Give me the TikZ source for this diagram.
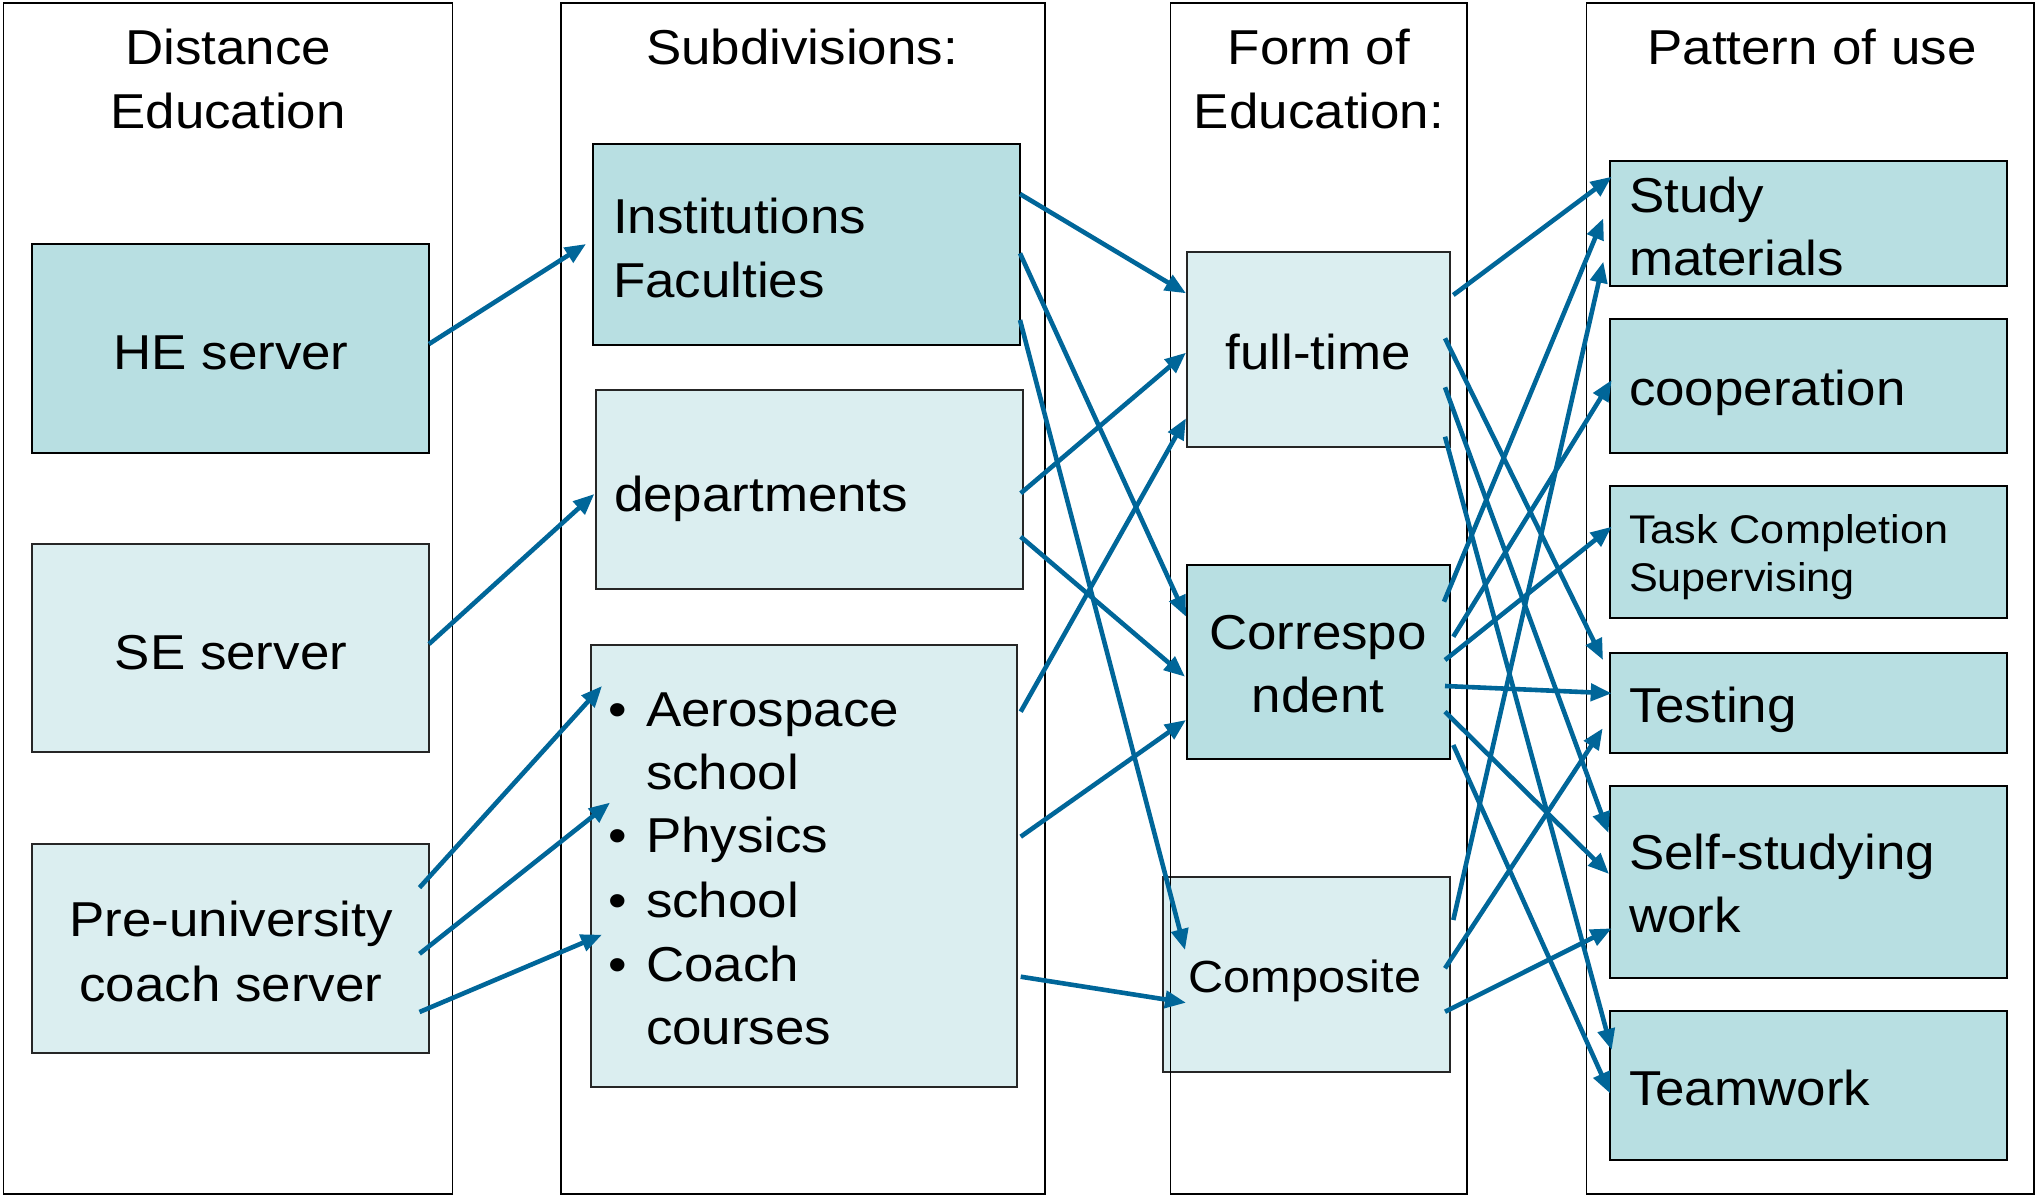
\documentclass[tikz,border=0pt]{standalone}
\usepackage{fontspec}
\setmainfont{Liberation Sans}[FakeStretch=1.08]
\usetikzlibrary{arrows.meta,calc}
\definecolor{darkfill}{RGB}{184,223,226}
\definecolor{lightfill}{RGB}{219,238,240}
\definecolor{arrowblue}{RGB}{0,102,153}
\begin{document}
\begin{tikzpicture}[x=1pt,y=-1pt,
  frame/.style={draw=black,line width=1.5pt,inner sep=0pt,outer sep=0pt},
  dbox/.style={draw=black,line width=2pt,fill=darkfill,inner sep=0pt,outer sep=0pt},
  lbox/.style={draw=black!85,line width=2pt,fill=lightfill,inner sep=0pt,outer sep=0pt},
  txt/.style={inner sep=0pt,outer sep=0pt,font=\fontsize{49}{58}\selectfont},
  ctxt/.style={txt,anchor=base},
  ltxt/.style={txt,anchor=base west},
  arr/.style={draw=arrowblue,line width=4.6pt,-{Triangle[length=21pt,width=17pt]}},
]
\useasboundingbox[fill=white] (0,0) rectangle (2037,1196);

% boxes
\node[dbox,minimum width=397.4pt,minimum height=208.5pt] (he) at (230.3,348.25) {};
\node[lbox,minimum width=397.4pt,minimum height=208.5pt] (se) at (230.3,647.75) {};
\node[lbox,minimum width=397.4pt,minimum height=208.5pt] (pre) at (230.3,948.25) {};
\node[dbox,minimum width=427pt,minimum height=200.5pt] (inst) at (806,244.25) {};
\node[lbox,minimum width=427pt,minimum height=199.5pt] (dept) at (809.5,489.25) {};
\node[lbox,minimum width=426.6pt,minimum height=441.6pt] (aero) at (804,865.8) {};
\node[lbox,minimum width=263pt,minimum height=194.5pt] (full) at (1318.5,349.25) {};
\node[dbox,minimum width=263pt,minimum height=193.5pt] (corr) at (1318.5,661.75) {};
\node[lbox,minimum width=287.3pt,minimum height=194.7pt] (comp) at (1306.35,974.35) {};
\node[dbox,minimum width=397pt,minimum height=125.3pt] (study) at (1808.5,223.35) {};
\node[dbox,minimum width=397pt,minimum height=133.7pt] (coop) at (1808.5,385.85) {};
\node[dbox,minimum width=397pt,minimum height=132pt] (task) at (1808.5,552) {};
\node[dbox,minimum width=397pt,minimum height=100.4pt] (test) at (1808.5,702.8) {};
\node[dbox,minimum width=397pt,minimum height=192.3pt] (self) at (1808.5,882.15) {};
\node[dbox,minimum width=397pt,minimum height=149.9pt] (team) at (1808.5,1085.45) {};

% column frames
\node[frame,minimum width=449pt,minimum height=1191pt] (col1) at (228,598.5) {};
\node[frame,minimum width=484pt,minimum height=1191pt] (col2) at (803,598.5) {};
\node[frame,minimum width=296.4pt,minimum height=1191pt] (col3) at (1318.8,598.5) {};
\node[frame,minimum width=447.4pt,minimum height=1191pt] (col4) at (1810.3,598.5) {};

% headers
\node[ctxt] (h1a) at (228,65) {Distance};
\node[ctxt] (h1b) at (228,129) {Education};
\node[ctxt] (h2) at (802,65) {Subdivisions:};
\node[ctxt] (h3a) at (1319,65) {Form of};
\node[ctxt] (h3b) at (1319,129) {Education:};
\node[ctxt] (h4) at (1812,65) {Pattern of use};

% box texts
\node[ctxt] (the) at (231,369) {HE server};
\node[ctxt] (tse) at (231,669) {SE server};
\node[ctxt] (tpre1) at (231,936) {Pre-university};
\node[ctxt] (tpre2) at (231,1001) {coach server};
\node[ltxt] (tinst1) at (613,233) {Institutions};
\node[ltxt] (tinst2) at (613,297) {Faculties};
\node[ltxt] (tdept) at (614,511) {departments};
\node[ltxt] (b1) at (608,726) {•};
\node[ltxt] (b2) at (608,852) {•};
\node[ltxt] (b3) at (608,917) {•};
\node[ltxt] (b4) at (608,981) {•};
\node[ltxt] (ta1) at (646,726) {Aerospace};
\node[ltxt] (ta2) at (646,789) {school};
\node[ltxt] (ta3) at (646,852) {Physics};
\node[ltxt] (ta4) at (646,917) {school};
\node[ltxt] (ta5) at (646,981) {Coach};
\node[ltxt] (ta6) at (646,1044.5) {courses};
\node[ctxt] (tfull) at (1318,369) {full-time};
\node[ctxt] (tcorr1) at (1318,649.6) {Correspo};
\node[ctxt] (tcorr2) at (1318,712.7) {ndent};
\node[ctxt,font=\fontsize{45}{53}\selectfont] (tcomp) at (1305,992) {Composite};
\node[ltxt] (tstudy1) at (1629,212) {Study};
\node[ltxt] (tstudy2) at (1629,275.5) {materials};
\node[ltxt] (tcoop) at (1629,405.6) {cooperation};
\node[ltxt,font=\fontsize{40}{47}\selectfont] (ttask1) at (1629,543) {Task Completion};
\node[ltxt,font=\fontsize{40}{47}\selectfont] (ttask2) at (1629,591) {Supervising};
\node[ltxt] (ttest) at (1629,722) {Testing};
\node[ltxt] (tself1) at (1629,869.6) {Self-studying};
\node[ltxt] (tself2) at (1629,932.7) {work};
\node[ltxt] (tteam) at (1629,1105) {Teamwork};

% connectors: column 1 -> column 2
\draw[arr] ($(he.north east)+(0,100)$) -- ($(inst.north west)+(-6.5,100)$);
\draw[arr] ($(se.north east)+(0,100.5)$) -- ($(dept.north west)+(-1.7,104.5)$);
\draw[arr] ($(pre.north east)+(-9.5,43.6)$) -- ($(aero.north west)+(11.3,41)$);
\draw[arr] ($(pre.north east)+(-9.5,109.8)$) -- ($(aero.north west)+(19.3,157.6)$);
\draw[arr] ($(pre.north east)+(-9.5,168)$) -- ($(aero.north west)+(11.3,289.7)$);

% column 2 -> column 3
\draw[arr] ($(inst.north east)+(0.5,50)$) -- ($(full.north west)+(-1,41.3)$);
\draw[arr] ($(inst.north east)+(0.5,109.3)$) -- ($(corr.north west)+(-1,51.7)$);
\draw[arr] ($(inst.north east)+(0.5,176)$) -- ($(comp.north west)+(22.3,73)$);
\draw[arr] ($(dept.north east)+(-2.3,103.8)$) -- ($(full.north west)+(-1,100.7)$);
\draw[arr] ($(dept.north east)+(-2.3,147.2)$) -- ($(corr.north west)+(-2,111.7)$);
\draw[arr] ($(aero.north east)+(3.4,66.7)$) -- ($(full.north west)+(-1,166.3)$);
\draw[arr] ($(aero.north east)+(3.4,191.7)$) -- ($(corr.north west)+(-1,155)$);
\draw[arr] ($(aero.north east)+(3.4,331.7)$) -- ($(comp.north west)+(23.3,125.7)$);

% column 3 -> column 4
\draw[arr] ($(full.north east)+(3.3,43)$) -- ($(study.north west)+(1.7,16)$);
\draw[arr] ($(full.north east)+(-5,86.3)$) -- ($(test.north west)+(-7,7.4)$);
\draw[arr] ($(full.north east)+(-5,135.3)$) -- ($(self.north west)+(-1.5,47)$);
\draw[arr] ($(full.north east)+(-5,184.7)$) -- ($(team.north west)+(1.7,39.5)$);
\draw[arr] ($(corr.north east)+(-6,36.7)$) -- ($(study.north west)+(-6.7,57.6)$);
\draw[arr] ($(corr.north east)+(3.3,71.7)$) -- ($(coop.north west)+(1.7,61)$);
\draw[arr] ($(corr.north east)+(-5,95)$) -- ($(task.north west)+(1.7,40.7)$);
\draw[arr] ($(corr.north east)+(-5,121)$) -- ($(test.north west)+(1.7,40.7)$);
\draw[arr] ($(corr.north east)+(-5,146.7)$) -- ($(self.north west)+(-1,88)$);
\draw[arr] ($(corr.north east)+(3.3,180)$) -- ($(team.north west)+(0,82.8)$);
\draw[arr] ($(comp.north east)+(3.3,43)$) -- ($(study.north west)+(-6.7,101)$);
\draw[arr] ($(comp.north east)+(-5,91.3)$) -- ($(test.north west)+(-7.3,75.7)$);
\draw[arr] ($(comp.north east)+(-5,134.7)$) -- ($(self.north west)+(1.7,142.3)$);
\end{tikzpicture}
\end{document}
